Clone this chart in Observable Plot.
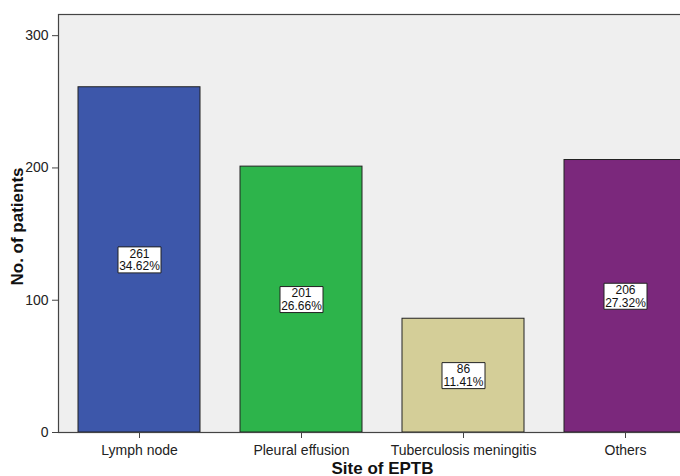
<!DOCTYPE html>
<html><head><meta charset="utf-8">
<script src="https://cdn.jsdelivr.net/npm/d3@7"></script>
<script src="https://cdn.jsdelivr.net/npm/@observablehq/plot@0.6"></script>
<style>body{margin:0;background:#fff;overflow:hidden}</style>
</head><body><div id="chart"></div>
<script>
const sites = ["Lymph node", "Pleural effusion", "Tuberculosis meningitis", "Others"];
const counts = [261, 201, 86, 206];
const percents = ["34.62%", "26.66%", "11.41%", "27.32%"];
const colors = ["#3d57aa", "#2db44b", "#d4ce98", "#7b287c"];
const yTicks = [0, 100, 200, 300];
const yTitle = "No. of patients";
const xTitle = "Site of EPTB";

const data = sites.map((s, i) => ({site: s, count: counts[i], pct: percents[i], mid: counts[i] / 2}));
const box = {draw(ctx) { ctx.rect(-21.5, -13, 43, 26); }};

const chart = Plot.plot({
  width: 680,
  height: 476,
  marginLeft: 58,
  marginRight: -26,
  marginTop: 14,
  marginBottom: 44,
  style: {fontFamily: "Arial, 'Liberation Sans', sans-serif", fontSize: "14px", color: "#222", background: "#fff"},
  x: {domain: sites, paddingInner: 0.247, paddingOuter: 0.123},
  y: {domain: [0, 316]},
  color: {domain: sites, range: colors},
  marks: [
    Plot.frame({fill: "#efefef", stroke: "#444", strokeWidth: 1.2}),
    Plot.barY(data, {x: "site", y: "count", fill: "site", stroke: "#222", strokeWidth: 1}),
    Plot.dot(data, {x: "site", y: "mid", symbol: box, r: 10, fill: "white", stroke: "#222", strokeWidth: 1}),
    Plot.text(data, {x: "site", y: "mid", text: d => d.count + "\n" + d.pct, fontSize: 12, lineHeight: 1.05, fill: "#111"}),
    Plot.ruleY([0], {stroke: "#444", strokeWidth: 1.2}),
    Plot.axisX({tickSize: 6, tickPadding: 7, fontSize: 14, label: null, stroke: "#444"}),
    Plot.axisY({ticks: yTicks, tickSize: 6, tickPadding: 4, fontSize: 14, label: null, stroke: "#444"}),
    Plot.text([yTitle], {frameAnchor: "left", dx: -36, dy: 3, rotate: -90, textAnchor: "middle", lineAnchor: "bottom", fontWeight: "bold", fontSize: 17, fill: "#111"}),
    Plot.text([xTitle], {frameAnchor: "bottom", dy: 41, textAnchor: "middle", lineAnchor: "bottom", fontWeight: "bold", fontSize: 17, fill: "#111"})
  ]
});
document.getElementById("chart").append(chart);
</script>
</body></html>
